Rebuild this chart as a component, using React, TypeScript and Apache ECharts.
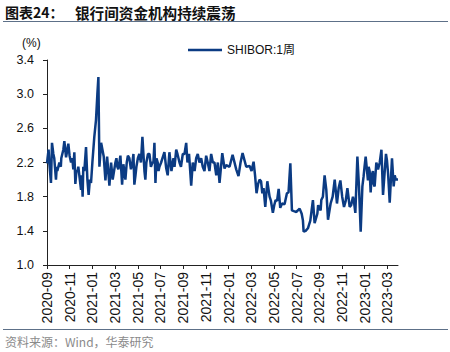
import React, { useEffect, useRef } from "react";
import * as echarts from "echarts";

// x positions: months since 2020-09-01 (fractional)
const monthsSinceSep2020 = [
  0.0, 0.05, 0.14, 0.2, 0.35, 0.44, 0.56, 0.64, 0.79, 0.91, 1.09, 1.22, 1.35, 1.53, 1.68, 1.79, 1.88,
  2.12, 2.23, 2.41, 2.5, 2.7, 2.85, 3.0, 3.14, 3.29, 3.44, 3.67, 3.88, 4.0, 4.17, 4.32, 4.44, 4.53,
  4.62, 4.77, 5.0, 5.15, 5.3, 5.5, 5.65, 5.79, 6.03, 6.2, 6.38, 6.62, 6.82, 7.03, 7.26, 7.53, 7.7,
  7.88, 8.14, 8.41, 8.59, 8.76, 9.03, 9.29, 9.47, 9.56, 9.76, 9.91, 10.06, 10.35, 10.64, 10.79,
  10.97, 11.15, 11.39, 11.68, 11.97, 12.27, 12.38, 12.71, 12.85, 13.15, 13.44, 13.73, 14.03, 14.32,
  14.62, 14.92, 15.21, 15.45, 15.65, 15.8, 16.09, 16.36, 16.68, 16.88, 17.06, 17.24, 17.56, 17.86,
  18.03, 18.21, 18.47, 18.74, 18.98, 19.09, 19.24, 19.42, 19.62, 19.91, 20.15, 20.42, 20.56, 20.94,
  21.15, 21.45, 21.59, 21.98, 22.27, 22.45, 22.56, 22.62, 22.8, 23.0, 23.21, 23.44, 23.59, 23.83,
  24.12, 24.18, 24.47, 24.62, 24.77, 25.0, 25.36, 25.56, 25.86, 26.18, 26.48, 26.68, 26.97, 27.18,
  27.36, 27.5, 27.65, 27.8, 27.91, 28.09, 28.29, 28.44, 28.53, 28.73, 28.88, 29.03, 29.18, 29.48,
  29.62, 29.97, 30.06, 30.21, 30.41, 30.56, 30.74, 30.94,
  // additional readings between the above
  0.86, 1.26, 1.44, 1.73, 1.99, 2.32, 2.59, 2.76, 3.07, 3.2, 3.56, 3.78,
  6.12, 6.29, 6.47, 6.73, 6.91, 7.13, 7.4, 7.62, 7.8, 8.01, 8.28, 8.5, 8.67, 8.9, 9.16, 9.38,
  9.65, 9.83, 10.18, 10.5, 11.24, 11.5, 11.81, 12.12, 12.52, 13.01, 13.29, 13.59, 13.88, 14.17,
  14.47, 14.76, 15.06,
  18.34, 18.61, 18.87, 19.74, 20.03, 20.28, 20.72, 21.29, 21.77, 22.11, 23.9, 24.32, 25.18,
  25.71, 26.02, 26.33, 26.81, 27.08, 27.99, 28.35, 28.62, 28.79, 29.33, 29.77, 29.88, 30.14, 30.65,
];

// SHIBOR 1-week (%)
const shibor1w = [
  2.19, 2.25, 2.35, 2.2, 1.96, 2.43, 2.3, 2.25, 2.0, 2.1, 2.2, 2.15, 2.3, 2.45, 2.26, 2.35, 2.42,
  2.2, 2.25, 2.32, 1.95, 2.1, 2.05, 1.88, 1.8, 2.1, 2.38, 1.82, 1.96, 2.2, 2.5, 2.7, 3.0, 3.2,
  2.15, 2.43, 2.27, 1.99, 2.27, 1.93, 2.2, 2.0, 2.2, 2.15, 2.2, 1.94, 2.1, 2.2, 2.25, 2.2, 1.94,
  2.15, 2.3, 2.5, 2.1, 2.2, 2.3, 2.2, 2.43, 1.96, 2.2, 2.15, 2.2, 2.32, 2.05, 2.32,
  2.1, 2.25, 2.35, 2.2, 2.3, 2.43, 2.2, 1.93, 2.2, 2.25, 2.2, 2.15, 2.28, 2.1,
  2.2, 2.05, 1.96, 2.31, 2.13, 2.17, 2.15, 2.29, 2.12, 2.04, 2.2, 2.31, 2.15, 2.16,
  2.1, 2.21, 1.84, 2.0, 1.84, 1.9, 1.68, 1.98, 1.8, 1.61, 1.76, 1.89, 1.67, 1.71,
  1.84, 2.19, 1.64, 1.62, 1.66, 1.6, 1.52, 1.39, 1.4, 1.43, 1.52, 1.76, 1.49, 1.6,
  1.64, 1.76, 2.05, 1.88, 1.53, 1.72, 2.0, 1.72, 1.99, 1.68, 1.9, 1.68, 1.8, 1.61,
  2.27, 1.92, 1.39, 1.92, 2.04, 2.27, 1.99, 2.1, 1.85, 2.1, 1.92, 2.2, 2.12, 2.35,
  1.82, 2.22, 2.08, 1.73, 2.25, 1.92, 2.0, 2.0,
  // additional readings
  2.15, 2.25, 2.35, 2.3, 2.28, 2.12, 2.1, 2.15, 2.05, 2.15, 2.0, 2.0,
  2.25, 2.12, 2.28, 2.18, 2.0, 2.28, 2.12, 2.3, 2.05, 2.25, 2.2, 2.3, 2.0, 2.3, 2.15, 2.2,
  2.25, 2.1, 2.25, 2.14, 2.15, 2.3, 2.15, 2.3, 2.3, 2.1, 2.3, 2.25, 2.1, 2.2,
  2.3, 2.2, 2.2,
  2.05, 1.95, 1.98, 1.75, 1.7, 1.75, 1.72, 1.85, 1.63, 1.64, 1.7, 1.8, 1.8,
  1.9, 1.8, 1.75, 1.7, 1.72, 2.15, 2.15, 2.05, 1.95, 2.2, 2.1, 2.3, 1.9, 2.05,
];

const tickLabels = [
  "2020-09", "2020-11", "2021-01", "2021-03", "2021-05", "2021-07", "2021-09", "2021-11",
  "2022-01", "2022-03", "2022-05", "2022-07", "2022-09", "2022-11", "2023-01", "2023-03",
];

const seriesName = "SHIBOR:1周";
const titleLead = "图表24：";
const titleText = "银行间资金机构持续震荡";
const sourceText = "资料来源：Wind，华泰研究";

const LATIN = "'Liberation Sans', Arial, 'Noto Sans CJK SC', sans-serif";
const CJK = "'Noto Sans CJK SC', 'Liberation Sans', sans-serif";

export default function App() {
  const ref = useRef<HTMLDivElement>(null);

  useEffect(() => {
    if (!ref.current) return;
    const chart = echarts.init(ref.current, undefined, { renderer: "svg" });
    const tickValues = tickLabels.map((_, i) => i * 2);
    const data = monthsSinceSep2020
      .map((m, i) => [m, shibor1w[i]])
      .sort((a, b) => a[0] - b[0]);

    chart.setOption({
      animation: false,
      backgroundColor: "#ffffff",
      grid: { left: 47, right: 52, top: 60, bottom: 87, containLabel: false, outerBoundsMode: "none" },
      legend: {
        top: 39,
        left: 183,
        icon: "rect",
        itemWidth: 34,
        itemHeight: 2.5,
        itemGap: 10,
        textStyle: { fontFamily: LATIN, fontSize: 12, color: "#111" },
        data: [seriesName],
      },
      xAxis: {
        type: "value",
        min: 0,
        max: 30.94,
        splitLine: { show: false },
        axisLine: { show: true, lineStyle: { color: "#222", width: 1 } },
        axisTick: {
          show: true,
          customValues: tickValues,
          length: 4,
          lineStyle: { color: "#222" },
        },
        axisLabel: {
          customValues: tickValues,
          rotate: 90,
          margin: 7,
          fontFamily: LATIN,
          fontSize: 14,
          color: "#111",
          formatter: (v: number) => tickLabels[Math.round(v / 2)] ?? "",
        },
      },
      yAxis: {
        type: "value",
        min: 1.0,
        max: 3.4,
        interval: 0.4,
        splitLine: { show: false },
        axisLine: { show: true, lineStyle: { color: "#222", width: 1 } },
        axisTick: { show: true, length: 4, lineStyle: { color: "#222" } },
        axisLabel: {
          margin: 13,
          fontFamily: LATIN,
          fontSize: 12.5,
          color: "#111",
          formatter: (v: number) => v.toFixed(1),
        },
      },
      series: [
        {
          name: seriesName,
          type: "line",
          data,
          symbol: "none",
          smooth: false,
          lineStyle: { color: "#0b3b83", width: 2.5 },
          itemStyle: { color: "#0b3b83" },
        },
      ],
      graphic: [
        {
          type: "text",
          left: 5,
          top: 5,
          style: { text: titleLead, font: `bold 14px ${CJK}`, fill: "#111" },
        },
        {
          type: "text",
          left: 75,
          top: 5,
          style: { text: titleText, font: `bold 14.6px ${CJK}`, fill: "#111" },
        },
        {
          type: "line",
          shape: { x1: 3, y1: 21.5, x2: 448, y2: 21.5 },
          style: { stroke: "#5d7088", lineWidth: 1.2 },
        },
        {
          type: "text",
          left: 22,
          top: 37,
          style: { text: "(%)", font: `12px ${LATIN}`, fill: "#111" },
        },
        {
          type: "line",
          shape: { x1: 3, y1: 329.5, x2: 448, y2: 329.5 },
          style: { stroke: "#5d7088", lineWidth: 1.2 },
        },
        {
          type: "text",
          left: 5,
          top: 335,
          style: { text: sourceText, font: `12px ${CJK}`, fill: "#8a8a8a" },
        },
      ],
    });

    return () => chart.dispose();
  }, []);

  return (
    <div
      ref={ref}
      style={{ position: "fixed", left: 0, top: 0, width: 450, height: 352 }}
    />
  );
}
